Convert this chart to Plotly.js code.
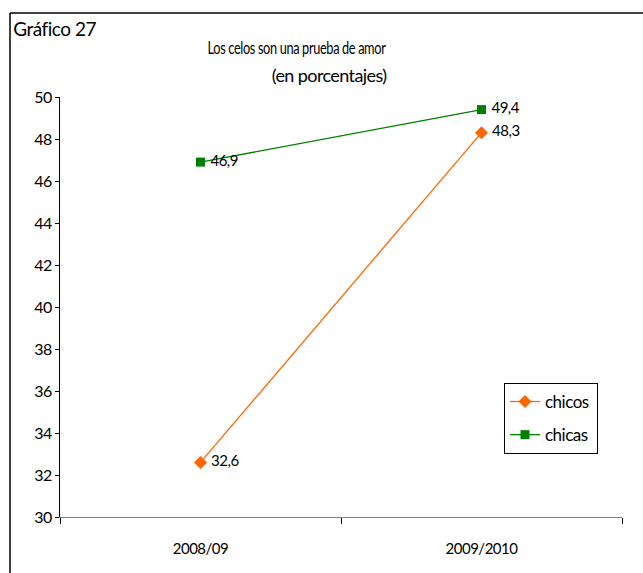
<!DOCTYPE html>
<html>
<head>
<meta charset="utf-8">
<script src="https://cdn.plot.ly/plotly-3.0.1.min.js"></script>
<style>
html,body{margin:0;padding:0;background:#fff;}
#chart{width:643px;height:573px;}
#chart text{letter-spacing:-0.5px;}
#chart g.annotation[data-index="1"] text{
  letter-spacing:-0.5px;
  transform-box: fill-box; transform-origin: center; transform: scaleX(0.71);
}
#chart g.annotation[data-index="2"] text{letter-spacing:-0.6px;}
</style>
</head>
<body>
<div id="chart"></div>
<script>
var categories = ['2008/09', '2009/2010'];
var chicos = [32.6, 48.3];
var chicas = [46.9, 49.4];
var yTicks = [30, 32, 34, 36, 38, 40, 42, 44, 46, 48, 50];
var chartLabel = 'Gráfico 27';
var titleLines = ['Los celos son una prueba de amor', '(en porcentajes)'];

var FONT = 'Lato, "Open Sans", sans-serif';

var traces = [
  {
    x: categories, y: chicos, name: 'chicos', type: 'scatter', mode: 'lines+markers+text',
    line: {color: '#FF6600', width: 1.3},
    marker: {symbol: 'diamond', size: 10, color: '#FF6600'},
    texttemplate: ' %{y:.1f}', textposition: 'middle right',
    textfont: {family: FONT, size: 15, color: '#000'},
    legendgroup: 'a', cliponaxis: false
  },
  {
    x: categories, y: chicas, name: 'chicas', type: 'scatter', mode: 'lines+markers+text',
    line: {color: '#008000', width: 1.3},
    marker: {symbol: 'square', size: 9, color: '#008000'},
    texttemplate: ' %{y:.1f}', textposition: 'middle right',
    textfont: {family: FONT, size: 15, color: '#000'},
    legendgroup: 'b', cliponaxis: false
  }
];

var W = 643, H = 573, L = 60, R = 21, T = 97, B = 56;
var pw = W - L - R, ph = H - T - B;
function px(x) { return (x - L) / pw; }
function py(y) { return (H - B - y) / ph; }

var layout = {
  width: W, height: H,
  margin: {l: L, r: R, t: T, b: B},
  paper_bgcolor: '#fff', plot_bgcolor: '#fff',
  separators: ', ',
  font: {family: FONT, size: 15, color: '#000'},
  showlegend: true,
  legend: {
    x: px(504), y: py(383), xanchor: 'left', yanchor: 'top',
    bordercolor: '#000', borderwidth: 1, bgcolor: '#fff',
    font: {family: FONT, size: 17, color: '#000'},
    traceorder: 'grouped', tracegroupgap: 8
  },
  xaxis: {
    type: 'category', range: [-0.5, 1.5],
    showline: true, linecolor: '#808080', linewidth: 1.3,
    ticks: 'outside', tickson: 'boundaries', ticklen: 6, tickcolor: '#000', tickwidth: 1,
    showgrid: false, zeroline: false,
    tickfont: {family: FONT, size: 15, color: '#000'},
    ticklabelstandoff: 18
  },
  yaxis: {
    range: [30, 50], tickvals: yTicks, ticktext: yTicks.map(String),
    showline: true, linecolor: '#000', linewidth: 1,
    ticks: 'outside', ticklen: 4, tickcolor: '#000',
    showgrid: false, zeroline: false,
    tickfont: {family: FONT, size: 16, color: '#000'}
  },
  shapes: [
    {type: 'line', xref: 'paper', yref: 'paper', x0: px(10), x1: px(10), y0: py(13), y1: py(573), line: {color: '#000', width: 1.5}},
    {type: 'line', xref: 'paper', yref: 'paper', x0: px(10), x1: px(643), y0: py(13), y1: py(13), line: {color: '#000', width: 1.5}}
  ],
  annotations: [
    {text: chartLabel, xref: 'paper', yref: 'paper', x: px(9), y: py(29), xanchor: 'left', yanchor: 'middle', showarrow: false,
     font: {family: FONT, size: 19, color: '#000'}},
    {text: titleLines[0], xref: 'paper', yref: 'paper', x: px(296.5), y: py(47), xanchor: 'center', yanchor: 'middle', showarrow: false,
     font: {family: FONT, size: 18, color: '#000'}},
    {text: titleLines[1], xref: 'paper', yref: 'paper', x: px(328.5), y: py(75), xanchor: 'center', yanchor: 'middle', showarrow: false,
     font: {family: FONT, size: 18, color: '#000'}}
  ]
};

Plotly.newPlot('chart', traces, layout, {displayModeBar: false, staticPlot: true});
</script>
</body>
</html>
